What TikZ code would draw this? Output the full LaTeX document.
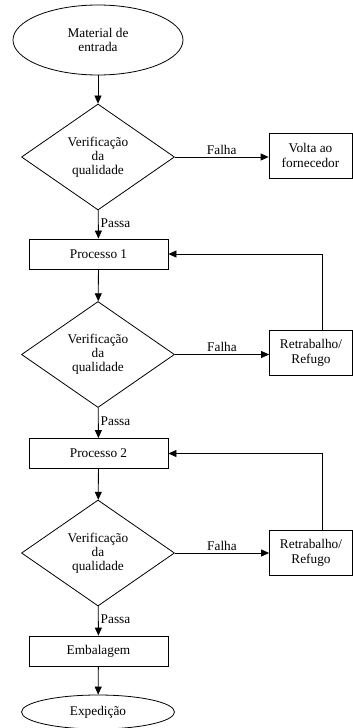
\documentclass[tikz,border=0pt]{standalone}
\usepackage{fontspec}
\setmainfont{Liberation Serif}
\usetikzlibrary{arrows.meta, shapes.geometric}

\begin{document}
\begin{tikzpicture}[x=1pt, y=1pt, line width=0.8pt, -{Triangle[length=8pt, width=7pt]},
      every node/.append style={font=\fontsize{13.3}{13.8}\selectfont, align=center},
      terminal/.style={ellipse, draw, inner sep=0pt},
      decision/.style={diamond, draw, minimum width=153pt, minimum height=106pt, inner sep=0pt},
      processbox/.style={rectangle, draw, minimum width=139pt, minimum height=30pt},
      sidebox/.style={rectangle, draw, minimum width=83pt, minimum height=45pt},
      lbl/.style={font=\fontsize{13.3}{14}\selectfont, inner sep=2pt}]
    \useasboundingbox (0,0) rectangle (353,-728);
    \node (start) [terminal, minimum width=170pt, minimum height=70pt] at (98,-40) {Material de\\[1pt]entrada};
    \node (check1) [decision] at (98,-157) {Verificação\\da\\qualidade};
    \node (supplier) [sidebox] at (310.5,-155.5) {Volta ao\\[1pt]fornecedor};
    \node (proc1) [processbox] at (98.5,-254) {Processo 1};
    \node (check2) [decision] at (98,-354.5) {Verificação\\da\\qualidade};
    \node (rework1) [sidebox] at (311,-352.5) {Retrabalho/\\[1pt]Refugo};
    \node (proc2) [processbox] at (98.5,-453.5) {Processo 2};
    \node (check3) [decision] at (98,-553) {Verificação\\da\\qualidade};
    \node (rework2) [sidebox] at (311,-552.5) {Retrabalho/\\[1pt]Refugo};
    \node (pack) [processbox] at (98.5,-651) {Embalagem};
    \node (ship) [terminal, minimum width=153pt, minimum height=34pt] at (98,-712) {Expedição};

    \draw (start) -- (check1);
    \draw (check1.east) -- node[lbl, above] {Falha} (check1.east -| supplier.west);
    \draw (check1) -- node[lbl, right, pos=0.45] {Passa} (proc1);
    \draw (proc1) -- (check2);
    \draw (check2.east) -- node[lbl, above] {Falha} (check2.east -| rework1.west);
    \draw ([xshift=11pt]rework1.north) |- (proc1.east);
    \draw (check2) -- node[lbl, right, pos=0.45] {Passa} (proc2);
    \draw (proc2) -- (check3);
    \draw (check3.east) -- node[lbl, above] {Falha} (check3.east -| rework2.west);
    \draw ([xshift=11pt]rework2.north) |- (proc2.east);
    \draw (check3) -- node[lbl, right, pos=0.45] {Passa} (pack);
    \draw (pack) -- (ship);
  \end{tikzpicture}
\end{document}
